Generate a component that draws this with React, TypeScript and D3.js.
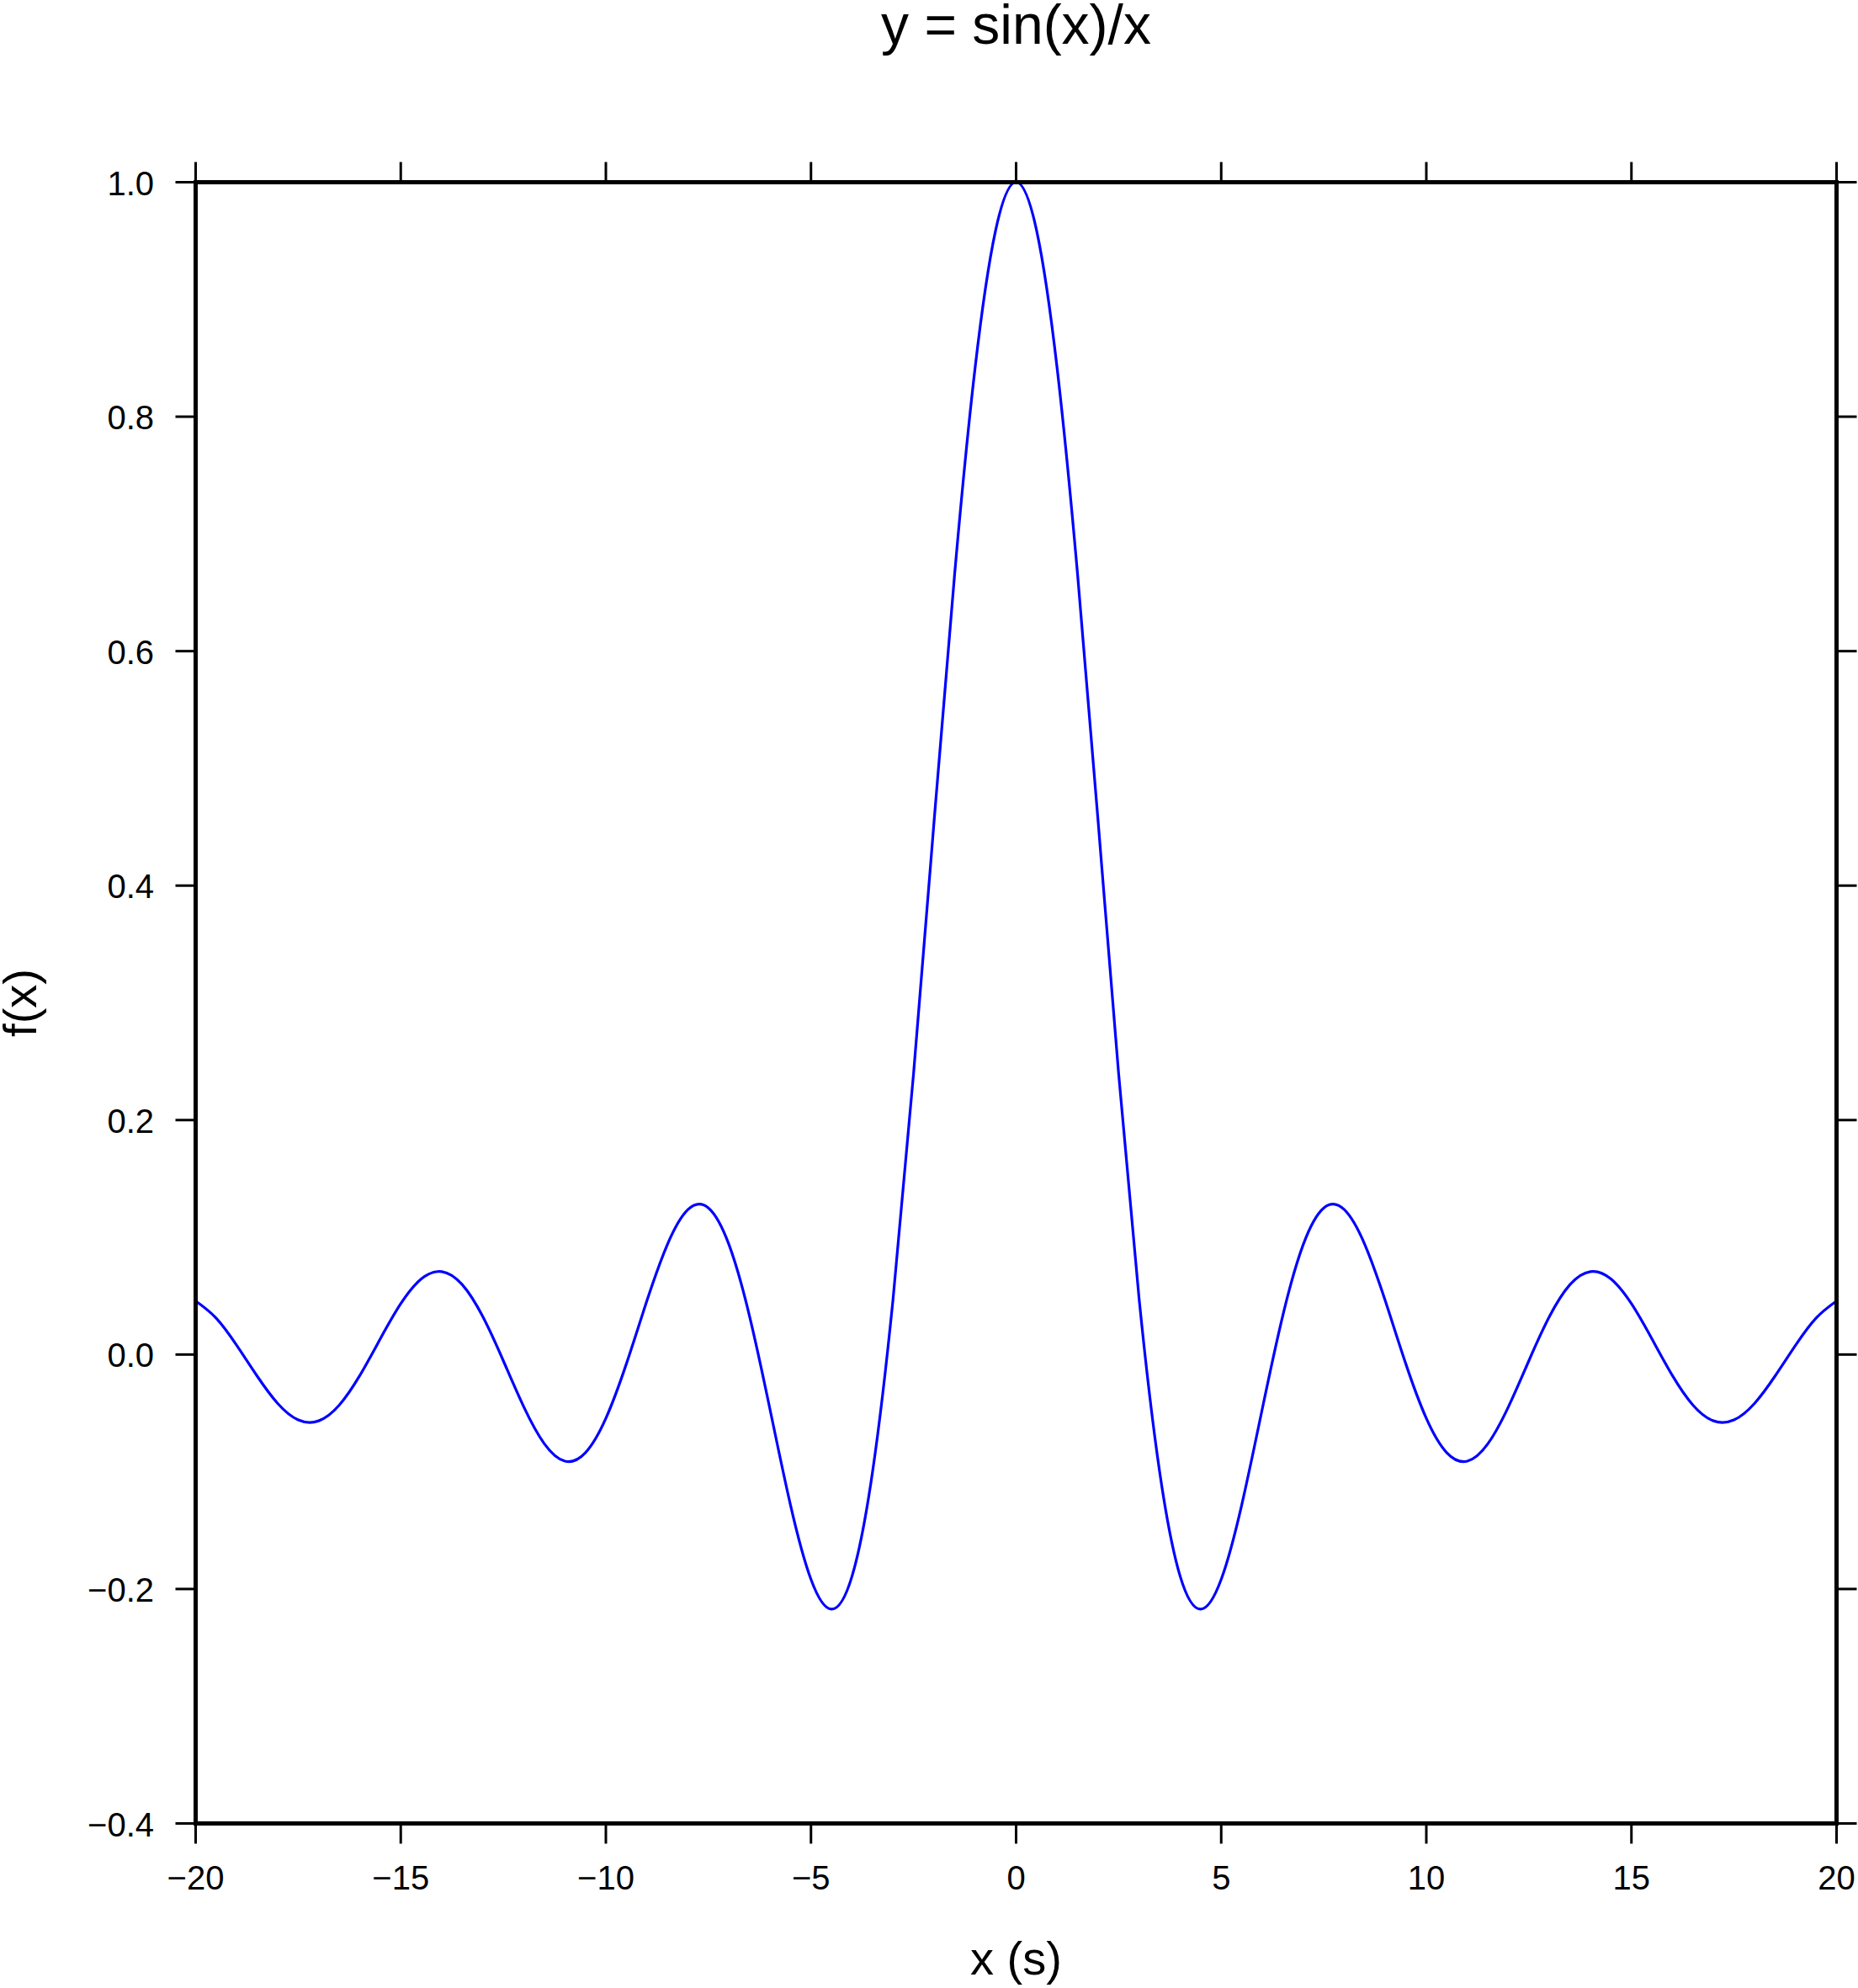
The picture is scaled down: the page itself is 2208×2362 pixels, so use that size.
import React from "react";
import * as d3 from "d3";

// Sample positions (x, seconds) and the curve values
const xSamples: number[] = d3.range(-20, 20.0001, 0.5);
const yRight: number[] = [
  1.0, 0.958851, 0.841471, 0.664997, 0.454649, 0.239389, 0.04704, -0.100224,
  -0.189201, -0.217229, -0.191785, -0.12828, -0.046569, 0.033095, 0.093855,
  0.125067, 0.12367, 0.09394, 0.045791, -0.007911, -0.054402, -0.083781,
  -0.090908, -0.076126, -0.044714, -0.005306, 0.032321, 0.05954, 0.070758,
  0.064476, 0.043353, 0.01332, -0.017994, -0.043161, -0.056553, -0.05575,
  -0.041722, -0.018395, 0.007888, 0.031053, 0.045647,
];
const yValues: number[] = [
  0.045647, 0.031053, 0.007888, -0.018395, -0.041722, -0.05575, -0.056553,
  -0.043161, -0.017994, 0.01332, 0.043353, 0.064476, 0.070758, 0.05954,
  0.032321, -0.005306, -0.044714, -0.076126, -0.090908, -0.083781, -0.054402,
  -0.007911, 0.045791, 0.09394, 0.12367, 0.125067, 0.093855, 0.033095,
  -0.046569, -0.12828, -0.191785, -0.217229, -0.189201, -0.100224, 0.04704,
  0.239389, 0.454649, 0.664997, 0.841471, 0.958851,
  ...yRight,
];

const xTicks: number[] = [-20, -15, -10, -5, 0, 5, 10, 15, 20];
const yTicks: number[] = [-0.4, -0.2, 0.0, 0.2, 0.4, 0.6, 0.8, 1.0];

const title = "y = sin(x)/x";
const xLabel = "x (s)";
const yLabel = "f(x)";

const W = 2208;
const H = 2362;
const L = 232.5;
const R = 2182.5;
const T = 216.5;
const B = 2166.5;
const FONT = "'Liberation Sans', Arial, Helvetica, sans-serif";

const fmtY = (v: number) => {
  const s = v.toFixed(1);
  return v < 0 ? "\u2212" + s.slice(1) : s;
};
const fmtX = (v: number) => (v < 0 ? "\u2212" + String(-v) : String(v));

export default function App() {
  const x = d3.scaleLinear().domain([-20, 20]).range([L, R]);
  const y = d3.scaleLinear().domain([-0.4, 1.0]).range([B, T]);
  const pts: [number, number][] = xSamples.map((xv, i) => [xv, yValues[i]]);
  const line = d3
    .line<[number, number]>()
    .x((d) => x(d[0]))
    .y((d) => y(d[1]))
    .curve(d3.curveNatural);
  const tickLen = 24;
  return (
    <div style={{ position: "absolute", left: 0, top: 0 }}>
      <svg width={W} height={H} style={{ display: "block", background: "#fff" }}>
        <rect x={0} y={0} width={W} height={H} fill="#fff" />
        <path d={line(pts) || ""} fill="none" stroke="#0000ff" strokeWidth={3.2} strokeLinejoin="round" />
        {/* ticks */}
        {xTicks.map((t) => (
          <g key={"xt" + t}>
            <line x1={x(t)} x2={x(t)} y1={B} y2={B + tickLen} stroke="#000" strokeWidth={3} />
            <line x1={x(t)} x2={x(t)} y1={T} y2={T - tickLen} stroke="#000" strokeWidth={3} />
            <text
              x={x(t)}
              y={2245}
              textAnchor="middle"
              fontFamily={FONT}
              fontSize={40}
              fill="#000"
            >
              {fmtX(t)}
            </text>
          </g>
        ))}
        {yTicks.map((t) => (
          <g key={"yt" + t}>
            <line x1={L} x2={L - tickLen} y1={y(t)} y2={y(t)} stroke="#000" strokeWidth={3} />
            <line x1={R} x2={R + tickLen} y1={y(t)} y2={y(t)} stroke="#000" strokeWidth={3} />
            <text
              x={183}
              y={y(t) + 15}
              textAnchor="end"
              fontFamily={FONT}
              fontSize={40}
              fill="#000"
            >
              {fmtY(t)}
            </text>
          </g>
        ))}
        {/* frame */}
        <rect x={L} y={T} width={R - L} height={B - T} fill="none" stroke="#000" strokeWidth={5} />
        {/* labels */}
        <text x={(L + R) / 2} y={52} textAnchor="middle" fontFamily={FONT} fontSize={66} fill="#000">
          {title}
        </text>
        <text x={(L + R) / 2} y={2346} textAnchor="middle" fontFamily={FONT} fontSize={56} fill="#000">
          {xLabel}
        </text>
        <text
          transform={`translate(43, ${(T + B) / 2}) rotate(-90)`}
          textAnchor="middle"
          fontFamily={FONT}
          fontSize={56}
          fill="#000"
        >
          {yLabel}
        </text>
      </svg>
    </div>
  );
}
